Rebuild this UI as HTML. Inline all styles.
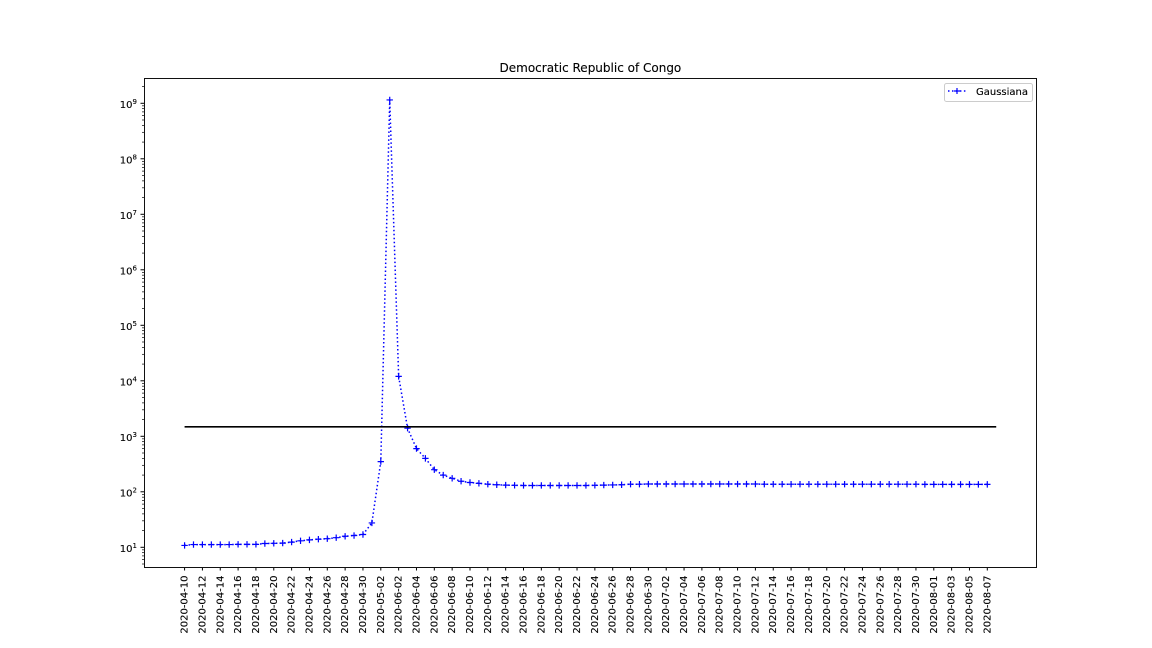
<!DOCTYPE html>
<html lang="en">
<head>
<meta charset="utf-8">
<title>Democratic Republic of Congo</title>
<style>
html,body{margin:0;padding:0;background:#fff;}
body{width:1152px;height:648px;overflow:hidden;}
svg{display:block;}
text{font-family:"DejaVu Sans","Liberation Sans",sans-serif;fill:#000;stroke:#000;stroke-width:0.12;}
</style>
</head>
<body>
<svg id="chart" xmlns="http://www.w3.org/2000/svg" width="1152" height="648" viewBox="0 0 1152 648">
<rect x="0" y="0" width="1152" height="648" fill="#ffffff"/>
<text x="590.4" y="72" font-size="12" text-anchor="middle">Democratic Republic of Congo</text>
</svg>
<script>
const categories = ["2020-04-10","2020-04-11","2020-04-12","2020-04-13","2020-04-14","2020-04-15","2020-04-16","2020-04-17","2020-04-18","2020-04-19","2020-04-20","2020-04-21","2020-04-22","2020-04-23","2020-04-24","2020-04-25","2020-04-26","2020-04-27","2020-04-28","2020-04-29","2020-04-30","2020-05-01","2020-05-02","2020-06-01","2020-06-02","2020-06-03","2020-06-04","2020-06-05","2020-06-06","2020-06-07","2020-06-08","2020-06-09","2020-06-10","2020-06-11","2020-06-12","2020-06-13","2020-06-14","2020-06-15","2020-06-16","2020-06-17","2020-06-18","2020-06-19","2020-06-20","2020-06-21","2020-06-22","2020-06-23","2020-06-24","2020-06-25","2020-06-26","2020-06-27","2020-06-28","2020-06-29","2020-06-30","2020-07-01","2020-07-02","2020-07-03","2020-07-04","2020-07-05","2020-07-06","2020-07-07","2020-07-08","2020-07-09","2020-07-10","2020-07-11","2020-07-12","2020-07-13","2020-07-14","2020-07-15","2020-07-16","2020-07-17","2020-07-18","2020-07-19","2020-07-20","2020-07-21","2020-07-22","2020-07-23","2020-07-24","2020-07-25","2020-07-26","2020-07-27","2020-07-28","2020-07-29","2020-07-30","2020-07-31","2020-08-01","2020-08-02","2020-08-03","2020-08-04","2020-08-05","2020-08-06","2020-08-07"];
const gaussianaValues = [10.8,11.2,11.2,11.2,11.2,11.2,11.3,11.3,11.3,11.7,11.8,11.9,12.4,13.1,13.6,14,14.3,14.9,15.8,16.3,17,27.5,350,1150000000,12000,1400,600,400,250,200,175,155,147,142,137,134,132,131,130,130,130,130,130,130,130,130,131,132,133,134,137,137,138,138,138,138,138,138,138,138,138,138,138,138,138,137,137,137,137,137,137,137,137,137,137,137,137,137,137,137,137,137,137,136,136,136,136,136,136,136,136];
const referenceLevel = [1480];
const yTickExponents = [1,2,3,4,5,6,7,8,9];
const yMinorMultipliers = [2,3,4,5,6,7,8,9];
const seriesName = ["Gaussiana"];

const svgNS = "http://www.w3.org/2000/svg";
const svg = document.getElementById("chart");
const plot = {left:144, right:1036.8, top:77.76, bottom:567};
const xDomain = {min:-4.55, max:categories.length + 4.55};
const yDomain = {min:0.645, max:9.46};

function xScale(i){
  return plot.left + (i - xDomain.min) / (xDomain.max - xDomain.min) * (plot.right - plot.left);
}
function yScale(v){
  return plot.bottom - (Math.log10(v) - yDomain.min) / (yDomain.max - yDomain.min) * (plot.bottom - plot.top);
}
function mk(tag, attrs, parent){
  const n = document.createElementNS(svgNS, tag);
  for (const k in attrs) n.setAttribute(k, attrs[k]);
  (parent || svg).appendChild(n);
  return n;
}

// y axis ticks
yTickExponents.forEach(function(e){
  const y = yScale(Math.pow(10, e));
  const t = mk("line", {x1:plot.left-3.5, x2:plot.left, y1:y, y2:y, stroke:"#000", "stroke-width":1});
  
  
  const lab = mk("text", {x:plot.left-7, y:y+4.5, "font-size":10, "text-anchor":"end"});
  
  
  const base = mk("tspan", {}, lab);
  base.textContent = "10";
  const sup = mk("tspan", {dy:-4, "font-size":7}, lab);
  sup.textContent = String(e);
});
for (let e = 0; e <= 9; e++) {
  yMinorMultipliers.forEach(function(m){
    const v = m * Math.pow(10, e);
    const lv = Math.log10(v);
    if (lv < yDomain.min || lv > yDomain.max) return;
    const y = yScale(v);
    const t = mk("line", {x1:plot.left-2, x2:plot.left, y1:y, y2:y, stroke:"#000", "stroke-width":0.7});
    
    
  });
}

// x axis ticks (every second category)
categories.forEach(function(c, i){
  if (i % 2 !== 0) return;
  const x = xScale(i);
  const t = mk("line", {x1:x, x2:x, y1:plot.bottom, y2:plot.bottom+3.5, stroke:"#000", "stroke-width":1});
  
  
  const lab = mk("text", {x:0, y:0, "font-size":10, "text-anchor":"end", transform:"translate(" + (x+3) + "," + (plot.bottom+8.5) + ") rotate(-90)"});
  
  
  lab.textContent = c;
});

// series line
const seriesPath = mk("polyline", {
  points: gaussianaValues.map(function(v, i){ return xScale(i).toFixed(2) + "," + yScale(v).toFixed(2); }).join(" "),
  fill:"none", stroke:"#0000ff", "stroke-width":1.5, "stroke-dasharray":"1.5 2.475"
});



// series markers
gaussianaValues.forEach(function(v, i){
  const x = xScale(i), y = yScale(v);
  const m = mk("path", {d:"M"+(x-3.2)+" "+y+"H"+(x+3.2)+"M"+x+" "+(y-3.2)+"V"+(y+3.2), fill:"none", stroke:"#0000ff", "stroke-width":1.2});
  
  
});

// horizontal reference line
const refY = yScale(referenceLevel[0]);
const refLine = mk("line", {x1:xScale(0), x2:xScale(categories.length), y1:refY, y2:refY, stroke:"#000", "stroke-width":1.6});



// axes frame
const frame = mk("rect", {x:144.5, y:78.5, width:892, height:489, fill:"none", stroke:"#111", "stroke-width":1});



// legend
const legendBox = mk("rect", {x:944.5, y:83.5, width:88, height:18, rx:2, ry:2, fill:"#fff", "fill-opacity":0.8, stroke:"#cccccc", "stroke-width":1});


const legendLine = mk("line", {x1:948, x2:966, y1:91, y2:91, stroke:"#0000ff", "stroke-width":1.5, "stroke-dasharray":"1.5 2.475"});


const legendMark = mk("path", {d:"M954 91H960M957 88V94", fill:"none", stroke:"#0000ff", "stroke-width":1.2});


const legendText = mk("text", {x:976, y:95, "font-size":10});


legendText.textContent = seriesName[0];
</script>
</body>
</html>
